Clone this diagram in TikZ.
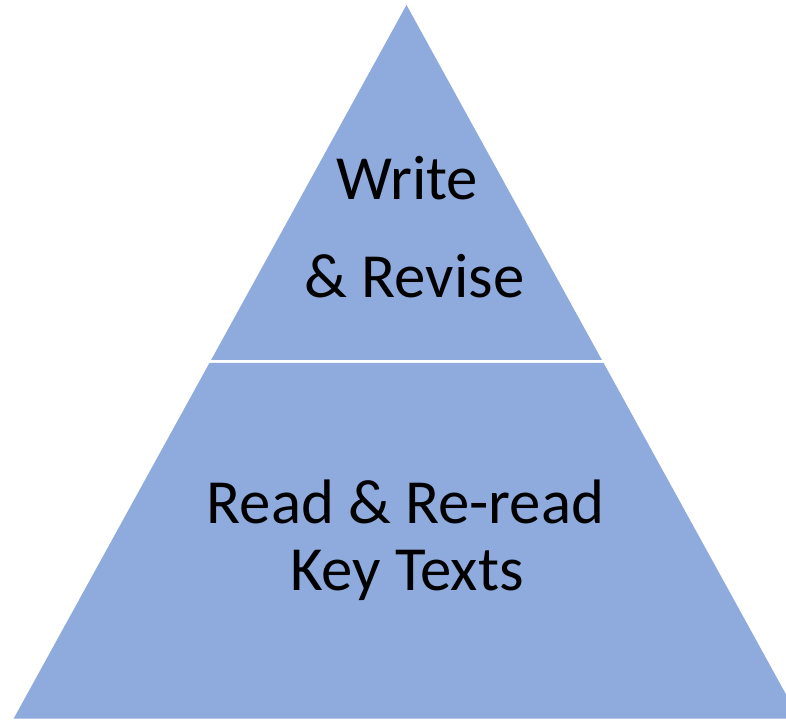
\documentclass[tikz,border=0pt]{standalone}
\usepackage{fontspec}
\setmainfont{Carlito}
\usepackage{tikz}

\definecolor{tierblue}{HTML}{8FAADC}

\begin{document}
\begin{tikzpicture}[x=1pt,y=1pt,
                    tier/.style={fill=tierblue,draw=none},
                    label/.style={anchor=base,inner sep=0pt,font=\fontsize{62.8}{67.5}\selectfont}]
%  \tikzstyle{tier}=[fill=tierblue,draw=white]

  \clip (0,0) rectangle (786,720);
  \fill[white] (0,0) rectangle (786,720);

  \coordinate (apex)  at (406.5,715);
  \coordinate (midL)  at (211.1,360);
  \coordinate (midR)  at (601.9,360);
  \coordinate (lowL)  at (209.4,357);
  \coordinate (lowR)  at (603.6,357);
  \coordinate (baseL) at (13.6,1.3);
  \coordinate (baseR) at (799.4,1.3);

  \fill[tier] (apex) -- (midR) -- (midL) -- cycle;
  \fill[tier] (lowL) -- (lowR) -- (baseR) -- (baseL) -- cycle;

  \node[label] (write)  at (407,520)   {Write};
  \node[label] (revise) at (414.5,422) {\& Revise};
  \node[label] (read)   at (405.5,196.7) {Read \& Re-read};
  \node[label] (key)    at (407,129.3) {Key Texts};

\end{tikzpicture}
\end{document}
